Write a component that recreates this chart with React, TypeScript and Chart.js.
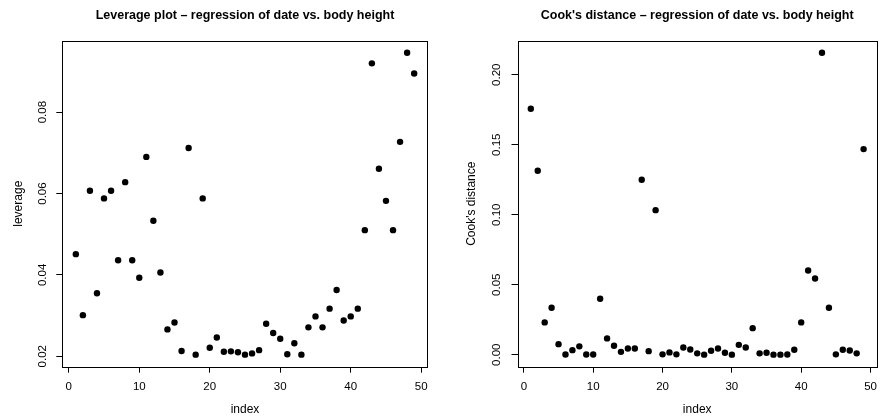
import React, { useEffect, useRef } from "react";
import { Chart, registerables } from "chart.js";

Chart.register(...registerables);

const indexValues = [
  1, 2, 3, 4, 5, 6, 7, 8, 9, 10, 11, 12, 13, 14, 15, 16, 17, 18, 19, 20, 21, 22, 23, 24, 25,
  26, 27, 28, 29, 30, 31, 32, 33, 34, 35, 36, 37, 38, 39, 40, 41, 42, 43, 44, 45, 46, 47, 48, 49,
];

const leverage = [
  0.0451, 0.0301, 0.0607, 0.0355, 0.0588, 0.0607, 0.0436, 0.0628, 0.0436, 0.0393,
  0.069, 0.0533, 0.0406, 0.0266, 0.0283, 0.0213, 0.0712, 0.0204, 0.0588, 0.0221,
  0.0246, 0.0211, 0.0212, 0.021, 0.0204, 0.0207, 0.0215, 0.028, 0.0257, 0.0243,
  0.0205, 0.0232, 0.0204, 0.0271, 0.0298, 0.0271, 0.0317, 0.0363, 0.0288, 0.0298,
  0.0317, 0.051, 0.092, 0.0661, 0.0582, 0.051, 0.0727, 0.0946, 0.0895,
];

const cooksDistance = [
  0.1757, 0.1314, 0.0231, 0.0336, 0.0076, 0.0002, 0.0033, 0.006, 0.0002, 0.0002,
  0.04, 0.0117, 0.0064, 0.0021, 0.0045, 0.0045, 0.125, 0.0026, 0.1033, 0.0003,
  0.0017, 0.0003, 0.0052, 0.0038, 0.001, 0.0001, 0.0029, 0.0045, 0.0014, 0.0001,
  0.0071, 0.0052, 0.019, 0.001, 0.0014, 0.0001, 0.0001, 0.0002, 0.0036, 0.0231,
  0.0602, 0.0545, 0.2157, 0.0336, 0.0003, 0.0036, 0.0031, 0.001, 0.1469,
];

const xTicks = [0, 10, 20, 30, 40, 50];
const leverageTicks = [0.02, 0.04, 0.06, 0.08];
const leverageTickLabels = ["0.02", "0.04", "0.06", "0.08"];
const cookTicks = [0, 0.05, 0.1, 0.15, 0.2];
const cookTickLabels = ["0.00", "0.05", "0.10", "0.15", "0.20"];

const leverageTitle = "Leverage plot \u2013 regression of date vs. body height";
const cookTitle = "Cook's distance \u2013 regression of date vs. body height";
const xLabel = "index";
const leverageYLabel = "leverage";
const cookYLabel = "Cook's distance";

const FONT = '"Liberation Sans", Arial, Helvetica, sans-serif';

function rRange(values: number[]): [number, number] {
  const lo = Math.min(...values);
  const hi = Math.max(...values);
  const pad = (hi - lo) * 0.04;
  return [lo - pad, hi + pad];
}

type PanelSpec = {
  values: number[];
  yTicks: number[];
  yTickLabels: string[];
  title: string;
  yLabel: string;
  areaLeft: number;
  areaRight: number;
  tickLabelX: number;
  yLabelX: number;
};

const CANVAS_W = 442;
const CANVAS_H = 418;
const AREA_TOP = 40.7;
const AREA_BOTTOM = 366.7;

function makeChart(canvas: HTMLCanvasElement, spec: PanelSpec) {
  const [xMin, xMax] = rRange(indexValues);
  const [yMin, yMax] = rRange(spec.values);
  const points = indexValues.map((x, i) => ({ x, y: spec.values[i] }));

  const plugin = {
    id: "rdecor",
    afterDraw(chart: any) {
      const { ctx, chartArea: a, scales } = chart;
      ctx.save();
      ctx.strokeStyle = "#000";
      ctx.lineWidth = 1;
      ctx.strokeRect(
        Math.round(a.left) + 0.5,
        Math.round(a.top) + 0.5,
        Math.round(a.right - a.left),
        Math.round(a.bottom - a.top)
      );
      ctx.fillStyle = "#000";
      ctx.textAlign = "center";
      ctx.textBaseline = "middle";
      ctx.font = `bold 12.5px ${FONT}`;
      ctx.fillText(spec.title, (a.left + a.right) / 2, 15.5);

      ctx.font = `11.5px ${FONT}`;
      spec.yTicks.forEach((v, i) => {
        const py = scales.y.getPixelForValue(v);
        ctx.save();
        ctx.translate(spec.tickLabelX, py);
        ctx.rotate(-Math.PI / 2);
        ctx.fillText(spec.yTickLabels[i], 0, 0);
        ctx.restore();
      });

      ctx.font = `12px ${FONT}`;
      ctx.save();
      ctx.translate(spec.yLabelX, (a.top + a.bottom) / 2);
      ctx.rotate(-Math.PI / 2);
      ctx.fillText(spec.yLabel, 0, 0);
      ctx.restore();

      ctx.fillText(xLabel, (a.left + a.right) / 2, 410);
      ctx.restore();
    },
  };

  return new Chart(canvas, {
    type: "scatter",
    data: {
      datasets: [
        {
          data: points,
          pointRadius: 3.2,
          pointBackgroundColor: "#000",
          pointBorderWidth: 0,
          showLine: false,
        },
      ],
    },
    options: {
      animation: false,
      responsive: false,
      events: [],
      layout: {
        padding: {
          left: 0,
          top: AREA_TOP,
          right: CANVAS_W - spec.areaRight,
          bottom: 0,
        },
      },
      plugins: {
        legend: { display: false },
        tooltip: { enabled: false },
        title: { display: false },
      },
      scales: {
        x: {
          type: "linear",
          min: xMin,
          max: xMax,
          afterBuildTicks: (s: any) => {
            s.ticks = xTicks.map((v) => ({ value: v }));
          },
          afterFit: (s: any) => {
            s.height = CANVAS_H - AREA_BOTTOM;
          },
          grid: {
            drawOnChartArea: false,
            drawTicks: true,
            tickLength: 6,
            color: "#000",
            tickColor: "#000",
          },
          border: { display: false },
          ticks: {
            autoSkip: false,
            maxRotation: 0,
            minRotation: 0,
            padding: 7,
            color: "#000",
            font: { family: FONT, size: 11.5 },
            callback: (v: any) => String(v),
          },
        },
        y: {
          type: "linear",
          min: yMin,
          max: yMax,
          afterBuildTicks: (s: any) => {
            s.ticks = spec.yTicks.map((v) => ({ value: v }));
          },
          afterFit: (s: any) => {
            s.width = spec.areaLeft;
          },
          grid: {
            drawOnChartArea: false,
            drawTicks: true,
            tickLength: 6,
            color: "#000",
            tickColor: "#000",
          },
          border: { display: false },
          ticks: { display: false },
        },
      },
    },
    plugins: [plugin],
  } as any);
}

function Panel({ spec, left }: { spec: PanelSpec; left: number }) {
  const ref = useRef<HTMLCanvasElement | null>(null);
  useEffect(() => {
    if (!ref.current) return;
    const chart = makeChart(ref.current, spec);
    return () => chart.destroy();
  }, [spec]);
  return (
    <canvas
      ref={ref}
      width={CANVAS_W}
      height={CANVAS_H}
      style={{ position: "absolute", left, top: 0, width: CANVAS_W, height: CANVAS_H }}
    />
  );
}

const leftSpec: PanelSpec = {
  values: leverage,
  yTicks: leverageTicks,
  yTickLabels: leverageTickLabels,
  title: leverageTitle,
  yLabel: leverageYLabel,
  areaLeft: 62.3,
  areaRight: 427.7,
  tickLabelX: 43,
  yLabelX: 18.3,
};

const rightSpec: PanelSpec = {
  values: cooksDistance,
  yTicks: cookTicks,
  yTickLabels: cookTickLabels,
  title: cookTitle,
  yLabel: cookYLabel,
  areaLeft: 75.5,
  areaRight: 440.5,
  tickLabelX: 55.3,
  yLabelX: 29.7,
};

export default function App() {
  return (
    <div
      style={{
        position: "fixed",
        left: 0,
        top: 0,
        width: 884,
        height: 418,
        background: "#fff",
        overflow: "hidden",
      }}
    >
      <Panel spec={leftSpec} left={0} />
      <Panel spec={rightSpec} left={442} />
    </div>
  );
}
